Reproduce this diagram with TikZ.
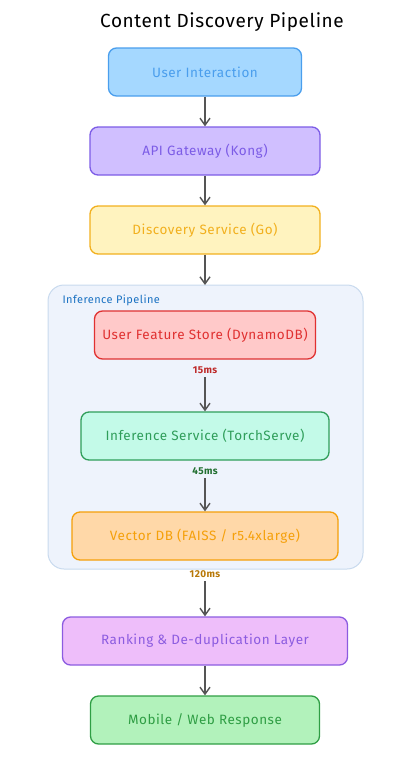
\documentclass[tikz,border=0pt]{standalone}
\usepackage{fontspec}
\setmainfont{Fira Sans}[LetterSpace=4]
\usetikzlibrary{arrows.meta}
\definecolor{bluefill}{HTML}{A5D8FF}
\definecolor{bluedraw}{HTML}{4A9EED}
\definecolor{violetfill}{HTML}{D0BFFF}
\definecolor{violetdraw}{HTML}{7C5CE6}
\definecolor{yellowfill}{HTML}{FFF3BF}
\definecolor{yellowdraw}{HTML}{F2B01E}
\definecolor{groupfill}{HTML}{EEF3FC}
\definecolor{groupdraw}{HTML}{C8DAEE}
\definecolor{grouptext}{HTML}{1971C2}
\definecolor{redfill}{HTML}{FFC9C9}
\definecolor{reddraw}{HTML}{E03131}
\definecolor{tealfill}{HTML}{C3FAE8}
\definecolor{tealdraw}{HTML}{2F9E5A}
\definecolor{orangefill}{HTML}{FFD8A8}
\definecolor{orangedraw}{HTML}{F5A00A}
\definecolor{pinkfill}{HTML}{EEBEFA}
\definecolor{pinkdraw}{HTML}{8C5CE0}
\definecolor{greenfill}{HTML}{B2F2BB}
\definecolor{greendraw}{HTML}{2F9E44}
\definecolor{arrowgray}{HTML}{555555}
\tikzset{
  stage/.style={draw, line width=1.3pt, rounded corners=8pt, minimum height=48pt, font=\fontsize{13.5}{15}\selectfont},
  flow/.style={draw=arrowgray, line width=1.4pt, -{Straight Barb[length=7pt,width=10pt]}},
  latency/.style={font=\fontsize{10}{11}\selectfont\bfseries}
}
\begin{document}
\begin{tikzpicture}[x=1pt,y=-1pt]
\useasboundingbox (0,0) rectangle (410,766);
\node (title) at (222,22) {\fontsize{19}{22}\selectfont\addfontfeature{LetterSpace=3} Content Discovery Pipeline};
% inference group
\filldraw[fill=groupfill, draw=groupdraw, line width=1pt, rounded corners=16pt] (48,285) rectangle (363,569);
\node[anchor=west, text=grouptext, font=\fontsize{11}{13}\selectfont] (grouplabel) at (59,300) {Inference Pipeline};
% stages
\node[stage, fill=bluefill, draw=bluedraw, text=bluedraw, minimum width=193pt] (user) at (205,72) {User Interaction};
\node[stage, fill=violetfill, draw=violetdraw, text=violetdraw, minimum width=230pt] (gateway) at (205,151) {API Gateway (Kong)};
\node[stage, fill=yellowfill, draw=yellowdraw, text=yellowdraw, minimum width=230pt] (discovery) at (205,230) {Discovery Service (Go)};
\node[stage, fill=redfill, draw=reddraw, text=reddraw, minimum width=221pt] (features) at (205,335) {User Feature Store (DynamoDB)};
\node[stage, fill=tealfill, draw=tealdraw, text=tealdraw, minimum width=248pt] (inference) at (205,436) {Inference Service (TorchServe)};
\node[stage, fill=orangefill, draw=orangedraw, text=orangedraw, minimum width=266pt] (vectordb) at (205,536) {Vector DB (FAISS / r5.4xlarge)};
\node[stage, fill=pinkfill, draw=pinkdraw, text=pinkdraw, minimum width=285pt] (ranking) at (205,641) {Ranking \& De-duplication Layer};
\node[stage, fill=greenfill, draw=greendraw, text=greendraw, minimum width=229pt] (response) at (205,720) {Mobile / Web Response};
% latencies
\node[latency, text=reddraw!85!black] (t15) at (205,370) {15ms};
\node[latency, text=greendraw!70!black] (t45) at (205,471) {45ms};
\node[latency, text=orangedraw!75!black] (t120) at (205,574) {120ms};
% arrows
\draw[flow] (user) -- (gateway);
\draw[flow] (gateway) -- (discovery);
\draw[flow] (discovery) -- (205,285);
\draw[flow] (t15) -- (inference);
\draw[flow] (t45) -- (vectordb);
\draw[flow] (t120) -- (ranking);
\draw[flow] (ranking) -- (response);
\end{tikzpicture}
\end{document}
